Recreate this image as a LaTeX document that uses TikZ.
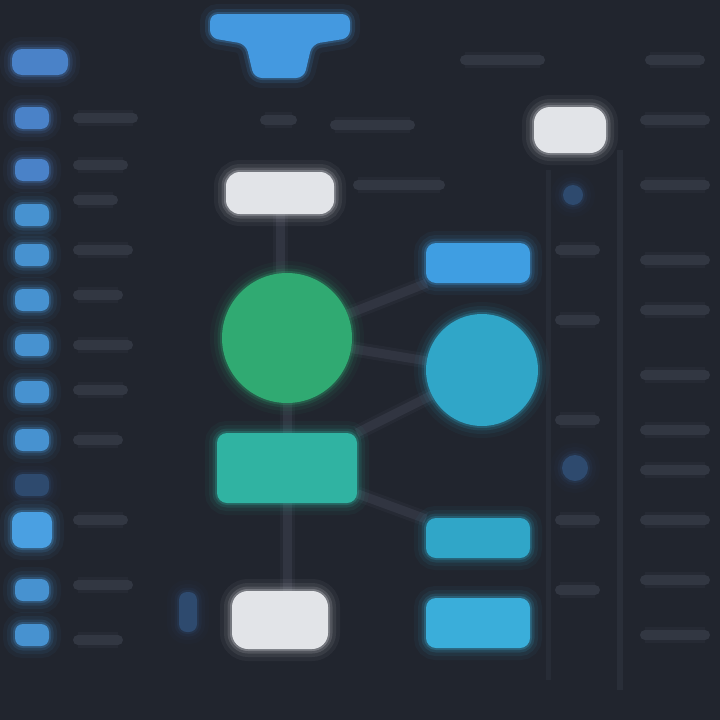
\documentclass[tikz,border=0pt]{standalone}
\usetikzlibrary{shapes.geometric}
\pgfdeclarelayer{bgl}
\pgfdeclarelayer{back}
\pgfsetlayers{bgl,back,main}
\definecolor{bg}{HTML}{21252E}
\definecolor{dimtxt}{HTML}{323742}
\definecolor{conn}{HTML}{313541}
\definecolor{blueA}{HTML}{4A82C8}
\definecolor{blueB}{HTML}{4792D0}
\definecolor{blueC}{HTML}{4AA0E2}
\definecolor{funnel}{HTML}{4499E0}
\definecolor{whiteA}{HTML}{E2E4E8}
\definecolor{greenA}{HTML}{30AA72}
\definecolor{tealA}{HTML}{30B3A2}
\definecolor{cyanA}{HTML}{30A6C8}
\definecolor{cyanB}{HTML}{3AAEDA}
\definecolor{blueR}{HTML}{3F9EE2}
\definecolor{dimblue}{HTML}{2E4A6E}
\tikzset{
  glow/.style={fill=#1,
    preaction={draw=#1,line width=24pt,opacity=0.05},
    preaction={draw=#1,line width=16pt,opacity=0.08},
    preaction={draw=#1,line width=9pt,opacity=0.14},
    preaction={draw=#1,line width=4pt,opacity=0.25}},
  box/.style={rectangle,rounded corners=10pt,inner sep=0pt},
  disc/.style={circle,inner sep=0pt},
  dimline/.style={draw=dimtxt,line width=10pt,line cap=round,
    preaction={draw=dimtxt,line width=16pt,opacity=0.3}},
  link/.style={draw=conn,line width=9pt,
    preaction={draw=conn,line width=15pt,opacity=0.35}}
}
\begin{document}
\begin{tikzpicture}[x=1pt,y=-1pt]
\begin{pgfonlayer}{bgl}
\fill[bg] (0,0) rectangle (720,720);
\end{pgfonlayer}
\useasboundingbox (0,0) rectangle (720,720);
% dim text lines
\begin{pgfonlayer}{back}
\foreach \y/\w in {118/55,165/45,200/35,250/50,295/40,345/50,390/45,440/40,520/45,585/50,640/40}
  \draw[dimline] (78,\y) -- ++(\w,0);
\draw[dimline] (265,120) -- (292,120);
\draw[dimline] (335,125) -- (410,125);
\draw[dimline] (358,185) -- (440,185);
\draw[dimline] (465,60) -- (540,60);
\draw[dimline] (650,60) -- (700,60);
\foreach \y in {120,185,260,310,375,430,470,520,580,635}
  \draw[dimline] (645,\y) -- (705,\y);
\foreach \y in {250,320,420,520,590}
  \draw[dimline] (560,\y) -- (595,\y);
\draw[draw=dimtxt,line width=6pt,opacity=0.5] (620,150) -- (620,690);
\draw[draw=dimtxt,line width=5pt,opacity=0.4] (548,170) -- (548,680);
\end{pgfonlayer}
% left column
\node[box,glow=blueA,minimum width=56pt,minimum height=26pt] (l0) at (40,62) {};
\foreach \y/\c [count=\i] in {118/blueA,170/blueA,215/blueB,255/blueB,300/blueB,345/blueB,392/blueB,440/blueB,485/dimblue,590/blueB,635/blueB}
  \node[box,rounded corners=8pt,glow=\c,minimum width=34pt,minimum height=22pt] (l\i) at (32,\y) {};
\node[box,rounded corners=10pt,glow=blueC,minimum width=40pt,minimum height=36pt] (lb) at (32,530) {};
\node[box,rounded corners=8pt,glow=dimblue,minimum width=18pt,minimum height=40pt] (db1) at (188,612) {};
% main nodes
\node[box,rounded corners=14pt,glow=whiteA,minimum width=108pt,minimum height=42pt] (w1) at (280,193) {};
\node[disc,glow=greenA,minimum size=130pt] (g) at (287,338) {};
\node[box,rounded corners=10pt,glow=tealA,minimum width=140pt,minimum height=70pt] (t) at (287,468) {};
\node[box,rounded corners=16pt,glow=whiteA,minimum width=96pt,minimum height=58pt] (w2) at (280,620) {};
\node[box,rounded corners=10pt,glow=blueR,minimum width=104pt,minimum height=40pt] (b1) at (478,263) {};
\node[disc,glow=cyanA,minimum size=112pt] (c) at (482,370) {};
\node[box,rounded corners=10pt,glow=cyanA,minimum width=104pt,minimum height=40pt] (b2) at (478,538) {};
\node[box,rounded corners=10pt,glow=cyanB,minimum width=104pt,minimum height=50pt] (b3) at (478,623) {};
\node[box,rounded corners=16pt,glow=whiteA,minimum width=72pt,minimum height=46pt] (w3) at (570,130) {};
\node[disc,glow=dimblue,minimum size=20pt] (d1) at (573,195) {};
\node[disc,glow=dimblue,minimum size=26pt] (d2) at (575,468) {};
% connectors behind nodes
\begin{pgfonlayer}{back}
\draw[link] (w1) -- (w1 |- g);
\draw[link] (g) -- (t);
\draw[link] (t) -- (t |- w2);
\draw[link] (g) -- (b1);
\draw[link] (g) -- (c);
\draw[link] (t) -- (c);
\draw[link] (t) -- (b2);
\end{pgfonlayer}
% funnel
\fill[funnel,rounded corners=8pt,
  preaction={draw=funnel,line width=20pt,opacity=0.06,rounded corners=8pt},
  preaction={draw=funnel,line width=10pt,opacity=0.14,rounded corners=8pt},
  preaction={draw=funnel,line width=4pt,opacity=0.25,rounded corners=8pt}]
  (210,14) -- (350,14) -- (350,38) -- (312,44) -- (304,78) -- (254,78) -- (246,44) -- (210,38) -- cycle;
\end{tikzpicture}
\end{document}
